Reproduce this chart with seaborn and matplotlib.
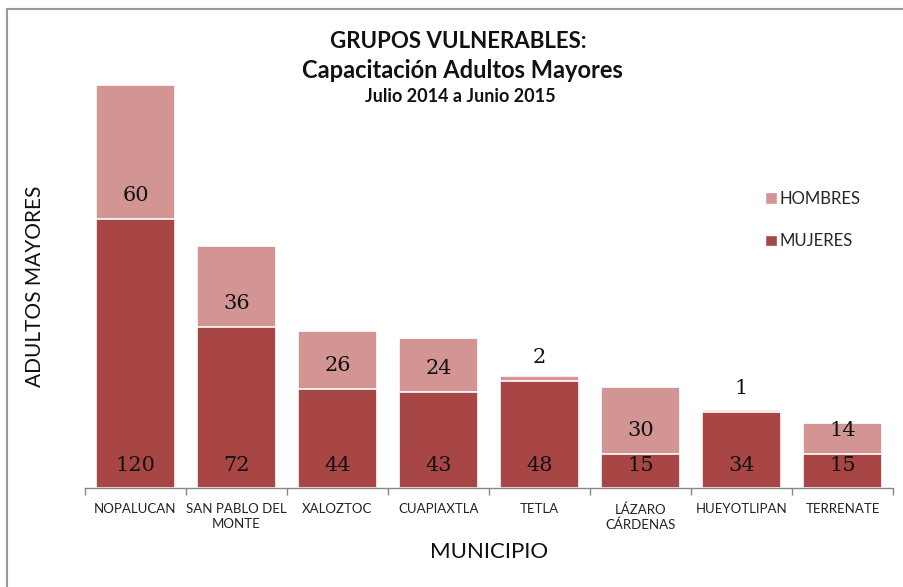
import matplotlib
matplotlib.use("Agg")
import matplotlib.pyplot as plt
import seaborn as sns
import pandas as pd
from matplotlib.lines import Line2D
from matplotlib.patches import Patch

municipios = ["NOPALUCAN", "SAN PABLO DEL\nMONTE", "XALOZTOC", "CUAPIAXTLA", "TETLA",
              "LÁZARO\nCÁRDENAS", "HUEYOTLIPAN", "TERRENATE"]
mujeres = [120, 72, 44, 43, 48, 15, 34, 15]
hombres = [60, 36, 26, 24, 2, 30, 1, 14]

c_h = "#D39494"
c_m = "#A84545"

sns.set_theme(style="white")
plt.rcParams['font.family'] = ['Lato', 'DejaVu Sans']

df = pd.DataFrame({"mun": municipios, "M": mujeres, "H": hombres})
df["T"] = df["M"] + df["H"]

fig = plt.figure(figsize=(9.04, 5.87), dpi=100)
ax = fig.add_axes([85/904, 1-488/587, (893-85)/904, (488-85)/587])

sns.barplot(data=df, x="mun", y="T", color=c_h, saturation=1, width=0.78,
            edgecolor="white", linewidth=1.2, ax=ax)
sns.barplot(data=df, x="mun", y="M", color=c_m, saturation=1, width=0.78,
            edgecolor="white", linewidth=1.2, ax=ax)

ax.set_ylim(0, 180)
ax.set_xlim(-0.5, 7.5)
for s in ["top", "right", "left"]:
    ax.spines[s].set_visible(False)
ax.spines["bottom"].set_color("#888888")
ax.spines["bottom"].set_linewidth(1)
ax.set_yticks([])
ax.set_xticks(range(len(municipios)))
ax.set_xticklabels(municipios, fontsize=9.5, color="#222222", linespacing=1.25)
ax.set_xticks([i - 0.5 for i in range(len(municipios) + 1)], minor=True)
ax.tick_params(axis="x", which="major", length=0, pad=11)
ax.tick_params(axis="x", which="minor", length=5, color="#888888", width=1, bottom=True)
ax.set_xlabel("")
ax.set_ylabel("")

serif = ["DejaVu Serif", "Liberation Serif"]
for i in range(len(municipios)):
    ax.text(i, 10, str(mujeres[i]), ha="center", va="center", fontsize=15,
            family=serif, color="#111111", clip_on=False)
    ax.text(i, mujeres[i] + 10.5, str(hombres[i]), ha="center", va="center", fontsize=15,
            family=serif, color="#111111", clip_on=False)

fig.text(458/904, 1-42/587, "GRUPOS VULNERABLES:", ha="center", va="center",
         fontsize=16, fontweight="bold", color="#111111")
fig.text(462/904, 1-70/587, "Capacitación Adultos Mayores", ha="center", va="center",
         fontsize=17, fontweight="bold", color="#111111")
fig.text(460/904, 1-96/587, "Julio 2014 a Junio 2015", ha="center", va="center",
         fontsize=13, fontweight="bold", color="#111111")

fig.text(35/904, 1-286/587, "ADULTOS MAYORES", rotation=90, ha="center", va="center",
         fontsize=15, color="#111111")
fig.text(489/904, 1-552/587, "MUNICIPIO", ha="center", va="center",
         fontsize=16, color="#111111")

handles = [Patch(facecolor=c_h, label="HOMBRES"), Patch(facecolor=c_m, label="MUJERES")]
leg = fig.legend(handles=handles, loc="center left", bbox_to_anchor=(750/904, 1-220/587),
                 frameon=False, fontsize=12, handlelength=0.7, handleheight=0.7,
                 handletextpad=0.2, labelspacing=1.6)

fig.add_artist(Line2D([7/904, 7/904], [0, 1-9/587], color="#999999", lw=1.5))
fig.add_artist(Line2D([7/904, 1], [1-9/587, 1-9/587], color="#999999", lw=1.5))

fig.savefig("out.png", dpi=100)
